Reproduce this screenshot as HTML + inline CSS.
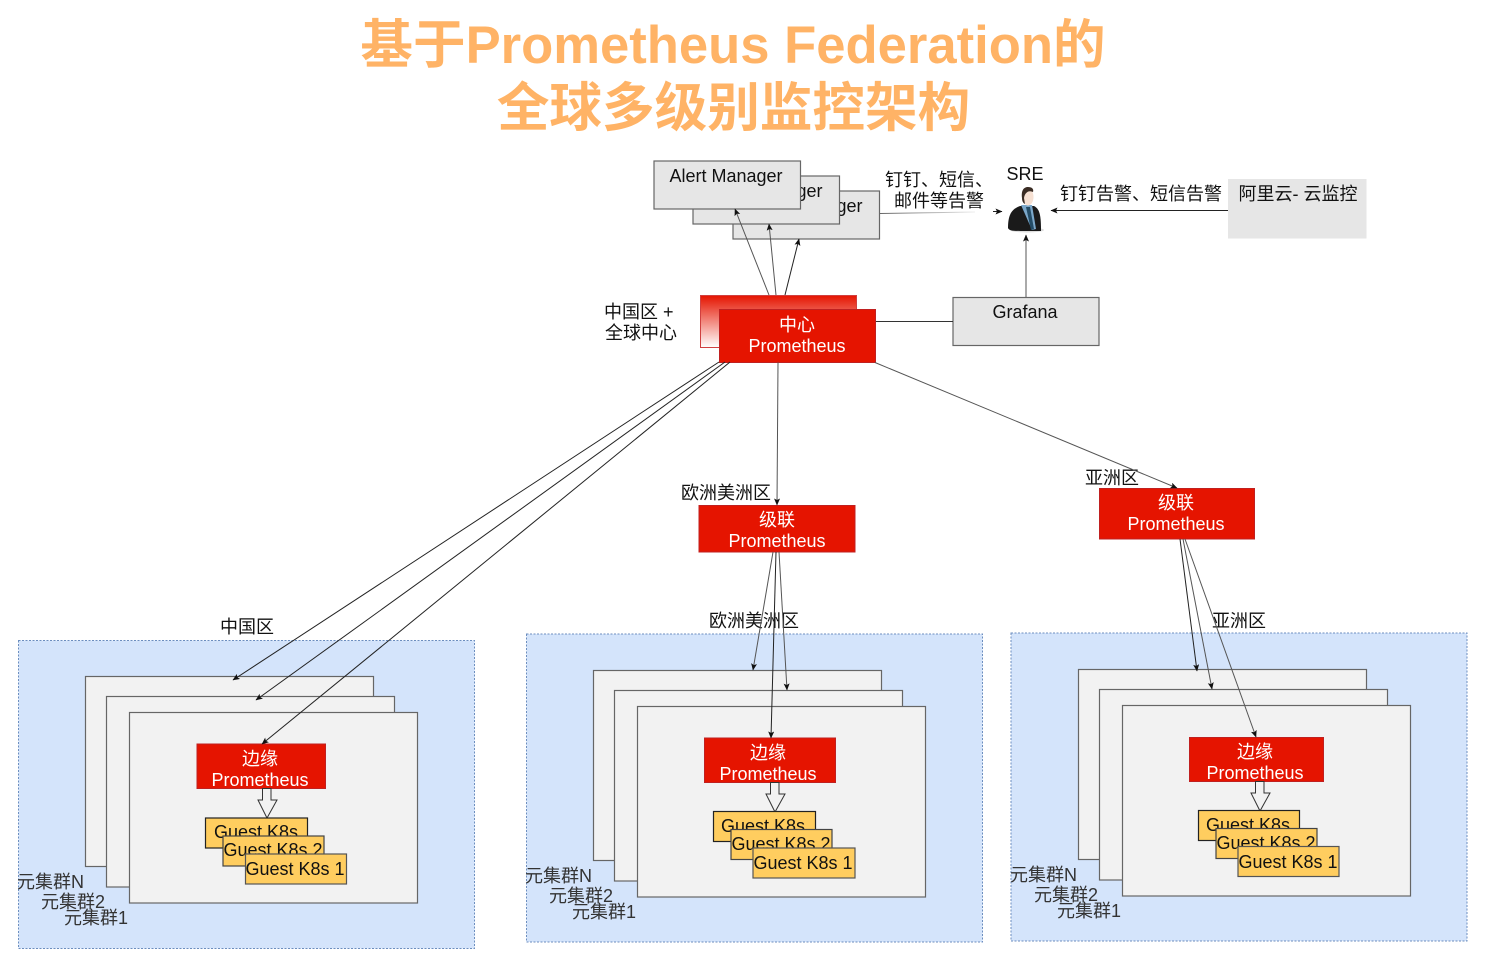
<!DOCTYPE html>
<html lang="zh">
<head>
<meta charset="utf-8">
<style>
html,body{margin:0;padding:0;background:#fff;width:1486px;height:962px;overflow:hidden}
svg{display:block}
text{font-family:"Liberation Sans","Noto Sans CJK SC",sans-serif;font-size:18px;fill:#111}
.c{text-anchor:middle}
.w{fill:#fff;text-anchor:middle}
.t{font-size:52.6px;font-weight:bold;fill:#ffb366;text-anchor:middle}
.am{fill:#e6e6e6;stroke:#666;stroke-width:1.2}
.cl{fill:#f2f2f2;stroke:#666;stroke-width:1.2}
.rg{fill:#d4e4fb;stroke:#6c8ebf;stroke-width:1;stroke-dasharray:2 1.5}
.red{fill:#e51400;stroke:#c02020;stroke-width:1}
.g{fill:#ffcd5f;stroke:#222;stroke-width:1.2}
.l{stroke:#222;stroke-width:1;fill:none;marker-end:url(#a)}
.ll{stroke:#555;stroke-width:1;fill:none;marker-end:url(#a)}
.h{fill:#f2f2f2;stroke:#333;stroke-width:1}
</style>
</head>
<body>
<svg width="1486" height="962" viewBox="0 0 1486 962" xmlns="http://www.w3.org/2000/svg">
<defs>
<marker id="a" markerWidth="8" markerHeight="8" refX="6.5" refY="3" orient="auto" markerUnits="userSpaceOnUse"><path d="M0 0L7 3L0 6L1.5 3Z" fill="#111"/></marker>
<linearGradient id="rg" x1="0" y1="0" x2="0" y2="1"><stop offset="0" stop-color="#e51400"/><stop offset="1" stop-color="#ffffff"/></linearGradient>
<linearGradient id="fade" x1="0" y1="0" x2="1" y2="0"><stop offset="0" stop-color="#666"/><stop offset="0.75" stop-color="#ccc"/><stop offset="1" stop-color="#eee"/></linearGradient>
</defs>

<text class="t" x="733" y="63">基于Prometheus Federation的</text>
<text class="t" x="733.5" y="126">全球多级别监控架构</text>

<!-- Regions -->
<rect class="rg" x="18.5" y="640.5" width="456" height="308"/>
<rect class="rg" x="526.5" y="634" width="456" height="308"/>
<rect class="rg" x="1011" y="633" width="456" height="308"/>

<!-- Alert managers -->
<rect class="am" x="733" y="191" width="146.500" height="48"/>
<text class="c" x="806" y="212">Alert Manager</text>
<rect class="am" x="693" y="176" width="146.500" height="48"/>
<text class="c" x="766" y="197">Alert Manager</text>
<rect class="am" x="654" y="161" width="146.500" height="48"/>
<text class="c" x="726" y="182">Alert Manager</text>

<!-- Central -->
<rect x="700.500" y="295.500" width="156" height="52" fill="url(#rg)" stroke="#d04040"/>
<rect class="red" x="719.500" y="309.500" width="156" height="53"/>
<text class="w" x="797" y="331">中心</text>
<text class="w" x="797" y="352">Prometheus</text>
<text x="604" y="318">中国区 +</text>
<text x="605" y="339">全球中心</text>

<!-- Grafana -->
<rect class="am" x="953" y="297.500" width="146" height="48"/>
<text class="c" x="1025" y="318">Grafana</text>
<path d="M876 321.500H953" stroke="#333" stroke-width="1"/>

<!-- Aliyun -->
<rect x="1228" y="179" width="138.500" height="59.500" fill="#e6e6e6"/>
<text class="c" x="1298" y="200">阿里云- 云监控</text>

<!-- Connector labels -->
<text x="885" y="186">钉钉、短信、</text>
<text x="894" y="207">邮件等告警</text>
<text x="1060" y="200">钉钉告警、短信告警</text>

<!-- SRE -->
<text class="c" x="1025" y="180">SRE</text>
<g>
<ellipse cx="1027" cy="230" rx="17" ry="2.500" fill="#ddd"/>
<path d="M1008 228C1008 214 1012 209 1020 206L1034 206C1040 209 1041 216 1041 231L1022 231C1014 231 1009 231 1008 228Z" fill="#1a1a1a"/>
<path d="M1021 205L1032 205L1036 229L1032 230Z" fill="#7ba7c9"/>
<path d="M1026 207L1030 207L1034 229L1031 230Z" fill="#244c66"/>
<ellipse cx="1028" cy="197" rx="5.500" ry="8.500" fill="#f6e0d2"/>
<path d="M1022 198C1021 190 1024 187 1028 187C1032 187 1034 189 1033 192C1029 190 1025 192 1024 198L1025 204C1023 203 1022 201 1022 198Z" fill="#3a2c24"/>
</g>

<!-- Cascade -->
<rect class="red" x="699" y="505.500" width="156" height="46.500"/>
<text class="w" x="777" y="526">级联</text>
<text class="w" x="777" y="547">Prometheus</text>
<text x="681" y="499">欧洲美洲区</text>

<rect class="red" x="1099.500" y="488.500" width="155" height="50.500"/>
<text class="w" x="1176" y="509">级联</text>
<text class="w" x="1176" y="530">Prometheus</text>
<text x="1085" y="484">亚洲区</text>

<text x="220" y="633">中国区</text>
<text x="709" y="627">欧洲美洲区</text>
<text x="1212" y="627">亚洲区</text>

<!-- Region 1 -->
<rect class="cl" x="85.500" y="676.500" width="288" height="190"/>
<rect class="cl" x="106.500" y="696.500" width="288" height="190.500"/>
<rect class="cl" x="129.500" y="712.500" width="288" height="190.500"/>
<rect class="red" x="197" y="744" width="128.500" height="44.500"/>
<text class="w" x="260" y="765">边缘</text>
<text class="w" x="260" y="786">Prometheus</text>
<path class="h" d="M262.500 788.500V800H258L267 818L277 800H271V788.500Z"/>
<rect class="g" x="205.500" y="818" width="102" height="30"/>
<text class="c" x="256" y="838">Guest K8s</text>
<rect class="g" x="223" y="836" width="101" height="30" style="stroke:#444"/>
<text class="c" x="273" y="856">Guest K8s 2</text>
<rect class="g" x="245.500" y="854" width="101" height="30" style="stroke:#555"/>
<text class="c" x="295" y="875">Guest K8s 1</text>
<text x="17" y="888" style="fill:#333">元集群N</text>
<text x="41" y="908" style="fill:#333">元集群2</text>
<text x="64" y="924" style="fill:#333">元集群1</text>

<!-- Region 2 -->
<rect class="cl" x="593.500" y="670.500" width="288" height="190"/>
<rect class="cl" x="614.500" y="690.500" width="288" height="190.500"/>
<rect class="cl" x="637.500" y="706.500" width="288" height="190.500"/>
<rect class="red" x="704.500" y="738" width="131" height="44.500"/>
<text class="w" x="768" y="759">边缘</text>
<text class="w" x="768" y="780">Prometheus</text>
<path class="h" d="M770.500 782.500V794H766L775 812L785 794H779V782.500Z"/>
<rect class="g" x="713.500" y="811.500" width="102" height="30"/>
<text class="c" x="763" y="832">Guest K8s</text>
<rect class="g" x="731" y="829.500" width="101" height="30" style="stroke:#444"/>
<text class="c" x="781" y="850">Guest K8s 2</text>
<rect class="g" x="753" y="848" width="102" height="30" style="stroke:#555"/>
<text class="c" x="803" y="869">Guest K8s 1</text>
<text x="525" y="882" style="fill:#333">元集群N</text>
<text x="549" y="902" style="fill:#333">元集群2</text>
<text x="572" y="918" style="fill:#333">元集群1</text>

<!-- Region 3 -->
<rect class="cl" x="1078.500" y="669.500" width="288" height="190"/>
<rect class="cl" x="1099.500" y="689.500" width="288" height="190.500"/>
<rect class="cl" x="1122.500" y="705.500" width="288" height="190.500"/>
<rect class="red" x="1189.500" y="737.500" width="134" height="44"/>
<text class="w" x="1255" y="758">边缘</text>
<text class="w" x="1255" y="779">Prometheus</text>
<path class="h" d="M1255.500 781.500V793H1251L1260 811L1270 793H1264V781.500Z"/>
<rect class="g" x="1198.500" y="810.500" width="101" height="30"/>
<text class="c" x="1248" y="831">Guest K8s</text>
<rect class="g" x="1216" y="828.500" width="101" height="30" style="stroke:#444"/>
<text class="c" x="1266" y="849">Guest K8s 2</text>
<rect class="g" x="1238" y="846.500" width="101" height="30" style="stroke:#555"/>
<text class="c" x="1288" y="868">Guest K8s 1</text>
<text x="1010" y="881" style="fill:#333">元集群N</text>
<text x="1034" y="901" style="fill:#333">元集群2</text>
<text x="1057" y="917" style="fill:#333">元集群1</text>

<!-- Connectors -->
<path class="ll" d="M769 295L735 209"/>
<path class="ll" d="M776 295L769 224"/>
<path class="l" d="M785 295L799 239"/>
<path d="M880 213.500L975 212" stroke="url(#fade)" stroke-width="1" fill="none"/>
<path class="l" d="M993 211.500H1002"/>
<path class="l" d="M1228 210.500H1051"/>
<path class="ll" d="M1026 297V235"/>
<path class="l" d="M719 362L233 680"/>
<path class="l" d="M725 362L256 700"/>
<path class="l" d="M730 362L262 744"/>
<path class="ll" d="M778 362.500L777 505"/>
<path class="ll" d="M875 362.500L1177 488"/>
<path class="ll" d="M773 552L753 670"/>
<path class="l" d="M776 552L771 738"/>
<path class="ll" d="M779 552L787 690"/>
<path class="l" d="M1180 539L1197 671"/>
<path class="ll" d="M1183 539L1212 689"/>
<path class="ll" d="M1185 539L1256 737"/>
</svg>
</body>
</html>
